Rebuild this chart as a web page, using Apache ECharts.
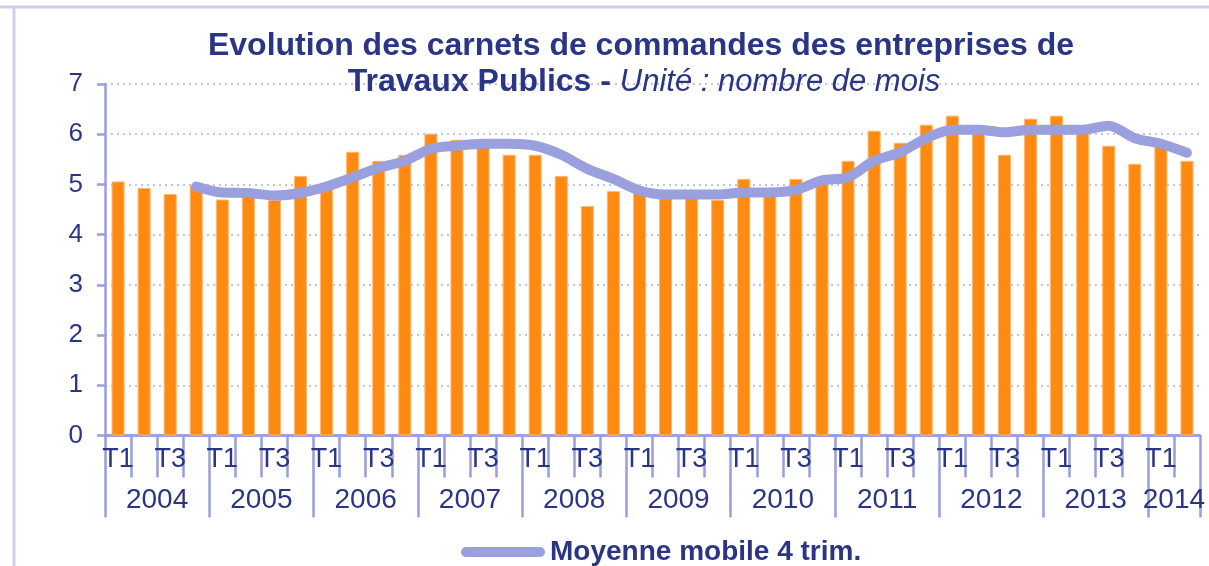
<!DOCTYPE html>
<html>
<head>
<meta charset="utf-8">
<script src="https://cdn.jsdelivr.net/npm/echarts@6/dist/echarts.min.js"></script>
<style>
html, body { margin: 0; padding: 0; background: #fff; }
#chart { width: 1209px; height: 566px; }
</style>
</head>
<body>
<div id="chart"></div>
<script>
// trimestres 2004 T1 -> 2014 T2
var quarters = [];
var years = [];
for (var y = 2004; y <= 2014; y++) {
	for (var q = 1; q <= 4; q++) {
		if (y === 2014 && q > 2) break;
		quarters.push('T' + q);
		years.push(String(y));
	}
}

// carnets de commandes (mois)
var carnets = [
	5.06, 4.93, 4.81, 4.98,
	4.70, 4.80, 4.69, 5.17,
	4.97, 5.65, 5.47, 5.59,
	6.01, 5.89, 5.80, 5.59,
	5.59, 5.17, 4.57, 4.87,
	4.86, 4.75, 4.75, 4.69,
	5.11, 4.85, 5.11, 5.11,
	5.47, 6.07, 5.83, 6.19,
	6.37, 6.06, 5.59, 6.31,
	6.37, 6.10, 5.77, 5.41,
	5.75, 5.47
];

// moyenne mobile 4 trimestres
var moyenne = [
	null, null, null, 4.96,
	4.84, 4.83, 4.78, 4.83,
	4.96, 5.14, 5.33, 5.47,
	5.71, 5.77, 5.81, 5.81,
	5.77, 5.59, 5.31, 5.11,
	4.88, 4.80, 4.80, 4.80,
	4.84, 4.84, 4.89, 5.08,
	5.14, 5.47, 5.64, 5.92,
	6.09, 6.09, 6.04, 6.09,
	6.09, 6.09, 6.17, 5.92,
	5.81, 5.63
];

var yTicks = [0, 7, 1]; // min, max, interval

var navy = '#2B3585';
var axisCol = '#9A9EDD';
var font = '"Liberation Sans", Arial, sans-serif';

var myChart = echarts.init(document.getElementById('chart'));
myChart.setOption({
	animation: false,
	grid: { left: 105, right: 9, top: 84, bottom: 130.5, containLabel: false },
	graphic: [
		{ type: 'line', shape: { x1: 0, y1: 7, x2: 1209, y2: 7 }, style: { stroke: '#CDD0F0', lineWidth: 3 } },
		{ type: 'line', shape: { x1: 14, y1: 7, x2: 14, y2: 566 }, style: { stroke: '#CDD0F0', lineWidth: 3 } },
		{
			type: 'text', x: 641, y: 30, z: 10,
			style: {
				text: 'Evolution des carnets de commandes des entreprises de',
				align: 'center', verticalAlign: 'top',
				fill: navy, fontFamily: font, fontSize: 32, fontWeight: 'bold'
			}
		},
		{
			type: 'text', x: 644, y: 66, z: 10,
			style: {
				text: '{b|Travaux Publics - }{i|Unité : nombre de mois}',
				align: 'center', verticalAlign: 'top',
				fill: navy, fontFamily: font, fontSize: 32,
				rich: {
					b: { fill: navy, fontFamily: font, fontSize: 32, fontWeight: 'bold' },
					i: { fill: navy, fontFamily: font, fontSize: 31, fontStyle: 'italic' }
				}
			}
		}
	],
	legend: {
		left: 456, top: 533,
		itemWidth: 84, itemHeight: 10, itemGap: 10,
		data: [{
			name: 'Moyenne mobile 4 trim.',
			icon: 'path://M5,0 L79,0 A5,5 0 0 1 79,10 L5,10 A5,5 0 0 1 5,0 Z',
			itemStyle: { color: '#99A0DD' }
		}],
		textStyle: { color: navy, fontFamily: font, fontSize: 28, fontWeight: 'bold' }
	},
	xAxis: [
		{
			type: 'category',
			position: 'bottom',
			data: quarters,
			axisLine: { show: true, lineStyle: { color: axisCol, width: 2.5 } },
			axisTick: { show: true, interval: 0, length: 42, lineStyle: { color: axisCol, width: 2.5 } },
			axisLabel: { interval: 1, margin: 11, color: navy, fontFamily: font, fontSize: 27 }
		},
		{
			type: 'category',
			position: 'bottom',
			data: years,
			axisLine: { show: true, lineStyle: { color: axisCol, width: 2.5 } },
			axisTick: {
				show: true,
				length: 82,
				interval: function (i) { return i % 4 === 0; },
				lineStyle: { color: axisCol, width: 2.5 }
			},
			axisLabel: {
				interval: function (i) { return (i % 4 === 1 && i < 40) || i === 40; },
				margin: 51,
				padding: [0, 0, 0, 26],
				color: navy, fontFamily: font, fontSize: 28
			}
		}
	],
	yAxis: {
		type: 'value',
		min: yTicks[0], max: yTicks[1], interval: yTicks[2],
		axisLine: { show: true, lineStyle: { color: axisCol, width: 2.5 } },
		axisTick: { show: true, length: 8, lineStyle: { color: axisCol, width: 2.5 } },
		axisLabel: { margin: 22, color: navy, fontFamily: font, fontSize: 26 },
		splitLine: { lineStyle: { color: '#BFC3EE', width: 2, type: [2, 4] } }
	},
	series: [
		{
			name: 'Carnets',
			type: 'bar',
			xAxisIndex: 0,
			barWidth: '50%',
			data: carnets,
			itemStyle: { color: '#FF8A12', borderColor: '#FFB870', borderWidth: 1 }
		},
		{
			name: 'Moyenne mobile 4 trim.',
			type: 'line',
			xAxisIndex: 0,
			data: moyenne,
			smooth: 0.3,
			symbol: 'none',
			lineStyle: { color: '#99A0DD', width: 10, cap: 'round', join: 'round' },
			itemStyle: { color: '#99A0DD' },
			z: 5
		}
	]
});
</script>
</body>
</html>
